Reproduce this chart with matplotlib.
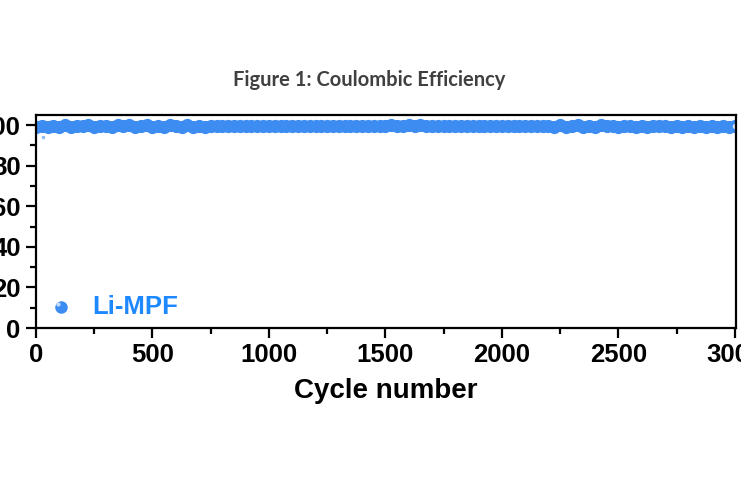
import numpy as np
import matplotlib
matplotlib.use("Agg")
import matplotlib.pyplot as plt
from matplotlib.ticker import MultipleLocator

# Coulombic efficiency (%), one value every 25 cycles
cycles = np.arange(0, 3001, 25)
efficiency = [
    99.2, 99.6, 99.0, 99.8, 99.3, 100.1, 99.1, 99.7, 99.4, 100.0,
    99.2, 99.8, 99.5, 99.1, 100.2, 99.4, 99.9, 99.0, 99.7, 100.1,
    99.3, 99.8, 99.2, 100.2, 99.5, 99.0, 99.9, 98.9, 99.6, 99.3,
    99.7, 99.4, 99.8, 99.5, 99.6, 99.4, 99.7, 99.5, 99.8, 99.6,
    99.5, 99.7, 99.6, 99.5, 99.8, 99.6, 99.4, 99.7, 99.5, 99.6,
    99.8, 99.5, 99.6, 99.7, 99.5, 99.6, 99.8, 99.6, 99.5, 99.7,
    99.6, 99.9, 99.5, 99.8, 100.0, 99.6, 99.9, 99.5, 99.7, 99.6,
    99.8, 99.5, 99.7, 99.6, 99.8, 99.5, 99.7, 99.6, 99.5, 99.7,
    99.6, 99.8, 99.5, 99.7, 99.6, 99.5, 99.8, 99.6, 99.7, 99.3,
    99.9, 99.1, 99.8, 100.1, 99.2, 99.7, 99.0, 99.9, 99.4, 99.6,
    99.2, 99.8, 99.5, 99.3, 99.7, 99.1, 99.8, 99.4, 99.6, 99.0,
    99.7, 99.3, 99.6, 99.1, 99.8, 99.2, 99.5, 99.3, 99.4, 99.2,
    99.4,
]
outlier_cycle = [30]
outlier_value = [94.0]

blue = "#3c8cf2"

fig = plt.figure(figsize=(7.41, 4.86), dpi=100)
ax = fig.add_axes([36 / 741, 158 / 486, 700 / 741, 213 / 486])

ax.plot(cycles, efficiency, "o", color=blue, ms=9.5, mec="none")
ax.plot(outlier_cycle, outlier_value, "o", color=blue, ms=2.5, mec="none", alpha=0.6)
# highlight on the last ball
ax.plot([cycles[-1]], [efficiency[-1]], "o", color="white", ms=4, mec="none", alpha=0.8)

ax.set_xlim(0, 3005)
ax.set_ylim(0, 105)
ax.xaxis.set_major_locator(MultipleLocator(500))
ax.xaxis.set_minor_locator(MultipleLocator(250))
ax.yaxis.set_major_locator(MultipleLocator(20))
ax.yaxis.set_minor_locator(MultipleLocator(10))
ax.tick_params(which="both", direction="out", width=1.6, top=False, right=False)
ax.tick_params(which="major", length=7, labelsize=18.5, pad=4)
ax.tick_params(which="minor", length=4)
for lab in ax.get_xticklabels() + ax.get_yticklabels():
    lab.set_fontweight("bold")
    lab.set_family("Liberation Sans")
for s in ax.spines.values():
    s.set_linewidth(1.6)

ax.set_xlabel("Cycle number", fontsize=20, fontweight="bold", family="Liberation Sans", labelpad=8)

# legend drawn by hand so the ball marker gets its highlight
ax.plot([0.035], [0.1], "o", color=blue, ms=9, mec="none", transform=ax.transAxes)
ax.plot([0.031], [0.113], "o", color="white", ms=3, mec="none", alpha=0.7, transform=ax.transAxes)
ax.text(0.08, 0.1, "Li-MPF", color="#1e88ff", fontsize=18.5, fontweight="bold",
        family="Liberation Sans", va="center", ha="left", transform=ax.transAxes)

fig.text(369 / 741, 1 - 80 / 486, "Figure 1: Coulombic Efficiency", ha="center", va="center",
         fontsize=14.5, fontweight="bold", color="#404040", family="Lato")

fig.savefig("out.png", dpi=100)
